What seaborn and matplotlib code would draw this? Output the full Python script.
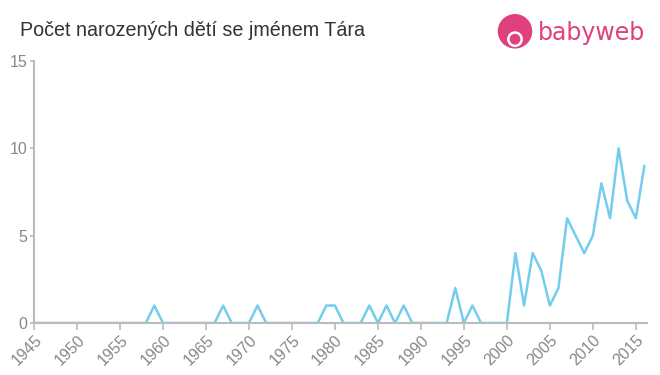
import numpy as np
import pandas as pd
import matplotlib
matplotlib.use("Agg")
import matplotlib.pyplot as plt
from matplotlib.patches import Circle
import seaborn as sns

# data
years = list(range(1945, 2017))
nonzero = {
    1959: 1, 1967: 1, 1971: 1, 1979: 1, 1980: 1, 1984: 1, 1986: 1, 1988: 1,
    1994: 2, 1996: 1,
    2001: 4, 2002: 1, 2003: 4, 2004: 3, 2005: 1, 2006: 2, 2007: 6, 2008: 5,
    2009: 4, 2010: 5, 2011: 8, 2012: 6, 2013: 10, 2014: 7, 2015: 6, 2016: 9,
}
counts = [nonzero.get(y, 0) for y in years]
x_ticks = list(range(1945, 2016, 5))
y_ticks = [0, 5, 10, 15]
title = "Počet narozených dětí se jménem Tára"

sns.set_theme(style="white")
plt.rcParams['font.family'] = ['Liberation Sans', 'DejaVu Sans']

df = pd.DataFrame({"year": years, "count": counts})

fig = plt.figure(figsize=(6.6, 3.75), dpi=100)
ax = fig.add_axes([34 / 660, 1 - 323 / 375, (647 - 34) / 660, (323 - 61) / 375])
sns.lineplot(data=df, x="year", y="count", ax=ax, color="#74cdec", linewidth=1.8)

ax.set_xlim(1945, 2016.3)
ax.set_ylim(0, 15)
ax.set_xticks(x_ticks)
ax.set_xticklabels([str(t) for t in x_ticks], rotation=45, ha="right",
                   rotation_mode="anchor", color="#888888", fontsize=11.5)
ax.set_yticks(y_ticks)
ax.set_yticklabels([str(t) for t in y_ticks], color="#888888", fontsize=11.5)
ax.set_xlabel("")
ax.set_ylabel("")
for s in ["top", "right"]:
    ax.spines[s].set_visible(False)
for s in ["left", "bottom"]:
    ax.spines[s].set_color("#bbbbbb")
    ax.spines[s].set_linewidth(1.5)
ax.tick_params(axis="x", which="both", bottom=True, length=5, width=1.2,
               color="#bbbbbb", pad=2)
ax.tick_params(axis="y", left=True, length=3, width=1.2, color="#bbbbbb", pad=2)

fig.text(20 / 660, 1 - 30 / 375, title, fontsize=14.2, color="#333333", va="center")

# logo
pink = "#e0407e"
logo = fig.add_axes([497 / 660, 1 - 50 / 375, 36 / 660, 36 / 375])
logo.set_xlim(0, 1)
logo.set_ylim(0, 1)
logo.set_aspect("equal")
logo.axis("off")
logo.add_patch(Circle((0.5, 0.52), 0.46, color=pink))
logo.add_patch(Circle((0.5, 0.3), 0.2, color="white"))
logo.add_patch(Circle((0.5, 0.3), 0.13, color=pink))
fig.text(538 / 660, 1 - 33 / 375, "babyweb", fontsize=17, color=pink, va="center",
         family=["DejaVu Sans"])

fig.savefig("out.png", dpi=100)
